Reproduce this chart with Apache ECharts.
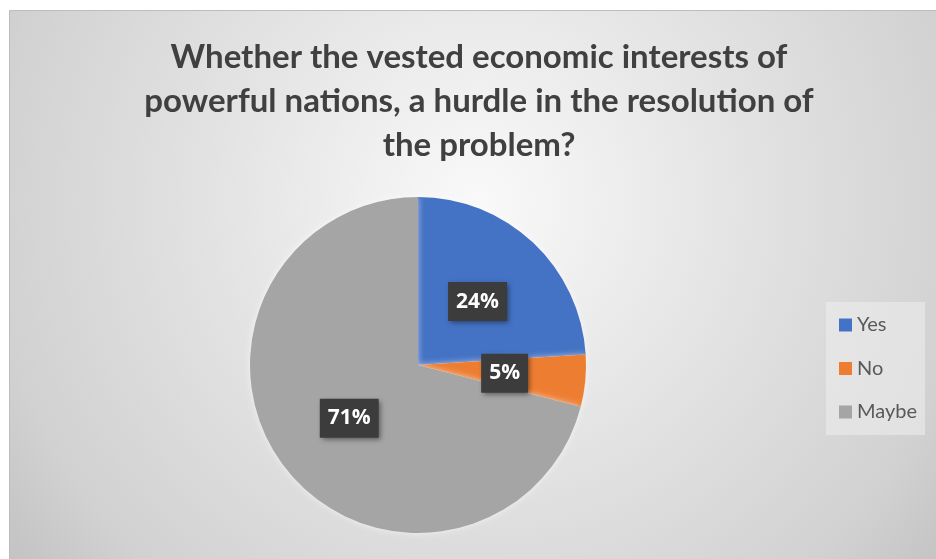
<!DOCTYPE html>
<html>
<head>
<meta charset="utf-8">
<script src="https://cdn.jsdelivr.net/npm/echarts@6/dist/echarts.min.js"></script>
<style>
  html, body { margin: 0; padding: 0; background: #ffffff; }
  #chart { width: 936px; height: 559px; }
</style>
</head>
<body>
<div id="chart"></div>
<script>
// Survey answers (percent of respondents)
const categories = ['Yes', 'No', 'Maybe'];
const shares = [24, 5, 71];
const sliceColors = ['#4472C4', '#ED7D31', '#A5A5A5'];
const titleLines = [
  'Whether the vested economic interests of',
  'powerful nations, a hurdle in the resolution of',
  'the problem?'
];

const chart = echarts.init(document.getElementById('chart'));

const FONT = 'Lato, "Open Sans", sans-serif';

chart.setOption({
  backgroundColor: '#ffffff',
  animation: false,
  graphic: [
    {
      type: 'rect',
      z: -10,
      shape: { x: 9.5, y: 10.5, width: 940, height: 560 },
      style: {
        fill: {
          type: 'radial', x: 0.5, y: 0.34, r: 1.1,
          colorStops: [
            { offset: 0, color: '#f9f9f9' },
            { offset: 0.45, color: '#e2e2e2' },
            { offset: 0.8, color: '#d1d1d1' },
            { offset: 0.92, color: '#c6c6c6' },
            { offset: 1, color: '#c2c2c2' }
          ]
        },
        stroke: '#bdbdbd',
        lineWidth: 1
      }
    }
  ],
  title: {
    text: titleLines.join('\n'),
    left: 479,
    top: 35,
    padding: 0,
    textAlign: 'center',
    textStyle: {
      fontFamily: FONT,
      fontWeight: 'bold',
      fontSize: 33,
      lineHeight: 44,
      color: '#404040'
    }
  },
  legend: {
    orient: 'vertical',
    left: 826,
    top: 302,
    padding: [13, 8, 13, 13],
    backgroundColor: 'rgba(238,238,238,0.55)',
    itemWidth: 13,
    itemHeight: 13,
    itemGap: 23.5,
    itemStyle: { borderWidth: 0 },
    icon: 'rect',
    data: categories,
    textStyle: {
      fontFamily: FONT,
      fontSize: 20,
      lineHeight: 18,
      color: '#595959'
    }
  },
  series: [
    {
      type: 'pie',
      center: [418, 365],
      radius: 168,
      startAngle: 90,
      clockwise: true,
      itemStyle: {
        borderWidth: 0,
        shadowBlur: 6,
        shadowColor: 'rgba(255,255,255,0.6)'
      },
      label: {
        show: true,
        position: 'inside',
        formatter: '{c}%',
        fontFamily: '"Open Sans", sans-serif',
        fontWeight: 'bold',
        fontSize: 21,
        lineHeight: 21,
        color: '#ffffff',
        backgroundColor: '#3c3c3c',
        padding: [9, 8, 9, 8],
        shadowColor: 'rgba(0,0,0,0.45)',
        shadowBlur: 5,
        shadowOffsetX: 2,
        shadowOffsetY: 2
      },
      labelLine: { show: false },
      emphasis: { disabled: true },
      data: categories.map((name, i) => ({
        name: name,
        value: shares[i],
        itemStyle: { color: sliceColors[i] }
      }))
    }
  ]
});
</script>
</body>
</html>
